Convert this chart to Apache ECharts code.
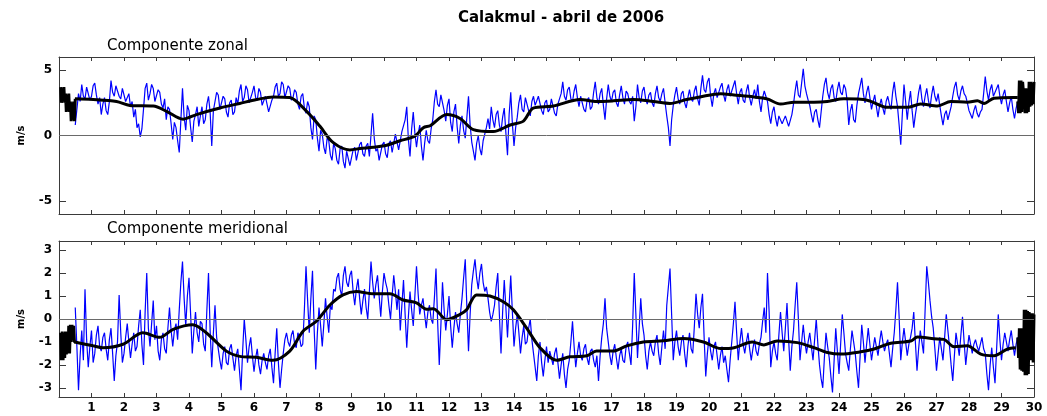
<!DOCTYPE html>
<html>
<head>
<meta charset="utf-8">
<title>Calakmul - abril de 2006</title>
<script src="https://cdn.jsdelivr.net/npm/echarts@6/dist/echarts.min.js"></script>
<style>
  html, body { margin: 0; padding: 0; background: #fff; }
  #chart { width: 1047px; height: 416px; }
</style>
</head>
<body>
<div id="chart"></div>
<script>
// raw series: one value every 0.05 day, starting at day 0.5 (one row = one day)
const rawStart = 0.5;
const rawStep = 0.05;
// filter edges (drawn black): one value every 0.025 day
const blockStep = 0.025;
const headStart = 0.05;
const tailStart = 29.5;

const dayTicks = [1, 2, 3, 4, 5, 6, 7, 8, 9, 10, 11, 12, 13, 14, 15, 16, 17, 18, 19, 20, 21, 22, 23, 24, 25, 26, 27, 28, 29, 30];
const zonalTicks = [-5, 0, 5];
const meridTicks = [-3, -2, -1, 0, 1, 2, 3];

// Componente zonal (m/s)
const zonalRaw = [
  0.8, 2.0, 3.2, 2.6, 3.9, 3.0, 2.8, 3.7, 3.6, 2.7, 3.0, 3.8, 4.0, 3.1, 2.4, 2.9, 1.6, 2.4, 2.9, 1.9,
  1.6, 2.6, 4.2, 3.3, 3.0, 3.8, 3.9, 3.0, 2.8, 3.6, 3.5, 2.6, 2.7, 3.2, 2.2, 2.6, 1.4, 2.0, 0.6, 0.9,
  -0.1, 0.5, 2.0, 3.6, 4.0, 2.7, 3.2, 3.9, 3.6, 2.6, 2.5, 3.5, 3.3, 2.4, 2.1, 2.8, 1.2, 2.2, 2.0, 0.9,
  -0.3, 1.0, 0.6, -0.4, -1.3, 1.2, 3.6, 1.4, 0.4, 2.3, 1.9, 0.6, -0.5, 1.1, 1.6, 2.2, 0.7, 1.5, 2.2, 0.9,
  1.2, 2.4, 3.0, 1.8, -0.8, 1.9, 2.6, 3.3, 3.1, 2.0, 2.1, 3.0, 2.8, 1.8, 1.4, 2.5, 2.7, 1.6, 1.8, 2.9,
  2.4, 3.4, 3.9, 2.6, 2.9, 3.8, 3.5, 2.5, 2.4, 3.3, 3.8, 2.9, 2.7, 3.6, 3.3, 2.3, 2.2, 3.0, 3.1, 1.8,
  1.9, 2.7, 3.0, 3.7, 4.0, 3.0, 3.2, 4.1, 3.9, 2.9, 3.0, 3.8, 3.6, 2.7, 2.9, 3.5, 3.3, 2.4, 2.0, 3.0,
  3.2, 2.1, 1.7, 2.6, 2.2, 0.6, -0.3, 1.5, 1.2, -0.2, -1.2, 0.4, 0.1, -0.9, -1.4, -0.2, -0.4, -1.5, -1.9, -0.6,
  -1.0, -1.9, -2.2, -1.0, -0.8, -2.0, -2.5, -1.2, -1.3, -2.3, -2.4, -1.1, -0.9, -1.9, -1.8, -0.7, -0.5, -1.4, -1.6, -0.8,
  -0.6, -1.6, -1.5, 1.7, -0.2, -1.2, -1.0, -1.9, -2.0, -0.7, -0.5, -1.4, -1.7, -0.6, -0.4, -1.3, -1.2, 0.1, 0.0, -1.1,
  -1.0, 0.3, 0.2, 1.2, 2.2, -0.3, -1.6, 0.5, 1.8, 0.2, -0.9, 0.1, 0.8, -0.8, -1.9, -0.6, 0.4, -0.4, -0.6, 0.5,
  1.2, 2.6, 3.5, 2.4, 2.2, 3.1, 3.2, 1.9, 1.1, 2.3, 2.8, 1.0, 0.3, 1.8, 2.4, 0.7, -0.6, 0.8, 1.5, 0.4,
  -0.2, 1.4, 3.0, 0.8, -0.5, -1.2, -1.9, -0.6, 0.0, -1.0, -1.5, -0.4, -0.3, 0.6, 1.3, 0.5, 2.2, 1.2, 0.6, 1.6,
  1.9, 0.8, 0.3, 1.4, 2.1, 0.2, -1.5, 1.6, 3.3, 0.9, -0.8, 0.6, 1.4, 2.5, 3.1, 2.0, 1.8, 2.9, 2.8, 1.9,
  1.5, 2.6, 3.0, 2.3, 2.2, 3.0, 3.1, 1.9, 1.6, 2.5, 2.7, 1.8, 2.0, 2.8, 2.9, 1.7, 1.5, 2.4, 2.5, 3.2,
  4.1, 3.0, 2.7, 3.5, 3.7, 2.8, 2.6, 3.4, 3.9, 2.9, 2.2, 3.0, 3.1, 2.0, 1.8, 2.7, 2.9, 2.0, 2.2, 3.3,
  4.1, 2.9, 2.4, 3.2, 3.6, 2.3, 1.2, 2.8, 3.9, 3.0, 2.6, 3.3, 3.5, 2.5, 2.2, 3.1, 3.8, 2.9, 2.4, 3.4,
  3.2, 2.6, 2.4, 3.0, 1.1, 2.2, 3.9, 2.9, 2.5, 3.4, 3.7, 2.8, 2.4, 3.1, 3.3, 2.5, 2.2, 3.2, 3.8, 2.9,
  2.6, 3.2, 3.6, 2.5, 1.5, 0.6, -0.8, 1.2, 2.3, 3.1, 3.7, 2.8, 2.4, 3.2, 3.4, 2.5, 2.1, 2.9, 3.5, 2.8,
  2.6, 3.4, 3.8, 2.8, 2.3, 3.6, 4.6, 3.5, 3.3, 4.1, 4.4, 3.0, 2.2, 3.2, 3.6, 2.9, 2.8, 3.7, 4.0, 3.1,
  2.6, 3.5, 3.9, 3.0, 2.9, 3.8, 4.2, 3.2, 2.4, 3.3, 3.6, 2.7, 2.5, 3.4, 3.9, 2.9, 2.3, 3.0, 3.5, 2.8,
  3.9, 2.6, 1.8, 2.9, 3.4, 3.0, 2.6, 1.6, 0.9, 1.8, 2.2, 1.3, 0.7, 1.5, 1.6, 0.9, 1.0, 1.5, 1.4, 0.7,
  0.8, 1.6, 2.4, 3.4, 4.2, 3.1, 2.9, 4.0, 5.1, 3.8, 3.2, 2.7, 2.3, 1.6, 1.0, 1.8, 2.0, 1.2, 0.6, 1.8,
  3.0, 3.9, 4.4, 3.3, 2.8, 3.6, 3.9, 2.9, 2.6, 3.5, 4.1, 3.3, 3.1, 3.9, 3.6, 2.7, 0.8, 1.9, 2.4, 1.2,
  1.0, 2.3, 3.2, 3.8, 4.4, 3.2, 2.5, 3.3, 3.8, 2.9, 2.0, 2.6, 3.1, 2.2, 1.4, 2.3, 2.8, 2.1, 1.6, 2.6,
  3.0, 2.4, 2.0, 3.3, 4.1, 3.0, 2.2, 0.8, -0.7, 1.7, 3.9, 2.6, 1.2, 2.5, 3.4, 1.9, 0.6, 1.6, 2.4, 3.3,
  3.9, 2.8, 2.2, 3.0, 3.6, 2.7, 2.1, 3.1, 3.8, 3.0, 2.6, 3.2, 2.3, 1.5, 0.8, 1.6, 1.9, 1.2, 1.1, 2.2,
  3.0, 3.7, 4.1, 3.1, 2.7, 3.4, 3.8, 3.2, 3.0, 2.5, 1.9, 1.6, 1.3, 1.9, 2.3, 1.7, 1.4, 1.8, 2.0, 3.2,
  4.5, 3.4, 2.7, 3.5, 3.9, 3.0, 2.9, 3.6, 3.9, 3.0, 2.4, 3.1, 3.5, 2.6, 1.8, 2.5, 3.0, 2.0, 1.3, 2.1,
  2.6
];
const zonalHead = [3.7, 2.5, 3.6, 2.6, 3.7, 2.5, 3.2, 1.8, 3.1, 1.9, 3.2, 1.8, 2.6, 1.1, 2.5, 1.2, 2.6, 1.1, 2.8];
const zonalTail = [2.6, 1.7, 4.2, 1.7, 4.2, 1.8, 4.1, 3.3, 3.6, 1.7, 3.6, 1.7, 3.5, 1.8, 4.1, 2.2, 4.1, 2.3, 4.0, 2.4, 4.1];
const zonalMeanDays = [0.49, 1.05, 1.77, 2.18, 2.9, 3.31, 3.82, 4.23, 4.95, 5.56, 6.08, 6.59, 7.1, 7.62, 8.03, 8.44, 8.95, 9.26, 9.67, 10.08,
  10.49, 10.95, 11.21, 11.42, 11.93, 12.34, 12.75, 13.36, 13.88, 14.29, 14.59, 15.21, 16.03, 16.54, 17.06, 17.67, 18.29, 18.8, 19.31, 19.72,
  20.36, 20.77, 21.38, 21.79, 22.2, 22.62, 23.23, 23.64, 24.15, 24.87, 25.49, 26.1, 26.51, 27.03, 27.44, 27.95, 28.26, 28.46, 28.77, 29.38, 29.5];
const zonalMean = [2.8, 2.75, 2.6, 2.3, 2.25, 1.85, 1.25, 1.6, 2.1, 2.45, 2.75, 2.95, 2.9, 1.85, 0.7, -0.55, -1.1, -1.0, -0.9, -0.75,
  -0.4, -0.05, 0.6, 0.75, 1.6, 1.3, 0.45, 0.3, 0.8, 1.1, 2.1, 2.25, 2.75, 2.6, 2.65, 2.75, 2.6, 2.45, 2.75, 2.95,
  3.2, 3.1, 2.95, 2.8, 2.4, 2.55, 2.55, 2.6, 2.8, 2.7, 2.15, 2.15, 2.4, 2.25, 2.6, 2.55, 2.65, 2.45, 2.85, 2.9, 2.9];

// Componente meridional (m/s)
const meridRaw = [
  0.5, -1.2, -3.1, -1.6, -0.5, -1.8, 1.3, -0.9, -2.1, -1.2, -0.5, -1.9, -1.5, -0.7, -0.3, -1.2, -1.4, -0.8, -0.6, -1.3,
  -1.8, -0.9, -0.4, -1.5, -2.7, -1.6, -1.0, 1.05, -0.6, -1.9, -1.5, -0.8, -0.2, -1.0, -1.7, -1.1, -0.6, -1.4, -1.2, -0.3,
  0.4, -1.1, -2.0, 0.3, 2.0, -0.4, -1.2, -0.2, 0.8, -0.9, -0.3, -1.4, -1.8, -0.9, -0.6, -1.3, -1.5, -0.4, 0.5, -0.5,
  -1.2, -0.5, -0.2, -0.9, 0.4, 1.6, 2.5, 0.9, -0.3, 1.0, 1.8, 0.2, -1.5, -0.5, 0.3, -0.6, -1.0, -0.1, -0.2, -1.1,
  -1.4, 0.4, 2.0, -0.5, -2.1, -0.6, 0.6, -0.8, -1.3, -1.8, -2.2, -1.5, -1.2, -1.9, -2.0, -1.3, -1.1, -1.7, -2.25, -1.6,
  -1.3, -2.2, -3.1, -1.4, 0.0, -0.9, -1.9, -1.2, -0.8, -1.6, -2.3, -1.7, -1.3, -2.0, -2.4, -1.8, -1.5, -1.9, -2.2, -1.6,
  -1.3, -2.1, -2.8, -1.5, -0.4, -1.9, -3.0, -2.2, -1.5, -0.9, -0.6, -1.0, -1.2, -0.7, -0.5, -1.1, -1.25, -0.6, -0.8, -1.2,
  -1.1, 0.4, 2.3, 0.8, -0.6, 0.9, 2.1, -0.4, -2.2, -0.6, 0.5, -0.3, -1.2, -0.2, 0.9, 0.1, -0.6, 0.6, 0.4, 1.3,
  1.2, 1.8, 2.0, 1.3, 1.0, 1.9, 2.3, 1.6, 1.4, 1.9, 2.1, 1.2, 0.6, 1.3, 1.75, 0.9, 0.2, 0.8, 1.3, 0.5,
  0.0, 1.2, 2.5, 1.6, 0.9, 1.5, 1.9, 1.0, 0.1, 1.2, 2.0, 1.6, 1.3, 0.6, 0.0, 1.0, 1.9, 1.2, 0.4, 1.3,
  -0.5, 0.6, 1.7, 0.2, -1.25, 0.1, 1.2, 0.4, -0.3, 1.0, 2.3, 1.1, 0.2, 0.6, 0.9, 0.2, -0.4, 0.3, 0.6, 0.0,
  -0.2, 0.9, 2.2, -0.1, -2.0, -0.3, 1.6, 0.4, -0.5, 0.2, 1.0, -0.3, -1.25, -0.4, 0.3, -0.2, -0.6, 0.2, 0.9, 1.8,
  2.6, 0.5, -1.4, 0.2, 1.5, 2.1, 2.6, 1.8, 1.3, 2.0, 2.4, 1.6, 1.2, 1.4, 0.9, 0.3, -0.1, 0.2, 0.6, 1.4,
  2.0, 0.2, -1.5, 0.3, 1.7, 0.5, -0.8, 0.6, 1.9, 0.3, -1.2, -0.4, 0.2, -0.6, -1.5, -0.8, -0.3, -1.1, -1.0, -0.4,
  0.0, -0.9, -1.5, -2.1, -2.7, -1.6, -1.0, -1.9, -2.5, -1.8, -1.2, -1.9, -1.4, -1.7, -2.0, -1.5, -1.25, -1.9, -2.6, -2.0,
  -1.5, -2.4, -3.0, -2.2, -1.8, -1.0, -0.1, -1.2, -2.1, -1.5, -1.0, -1.6, -1.8, -1.3, -1.1, -1.7, -2.0, -1.4, -1.3, -1.8,
  -2.1, -1.6, -2.7, -1.6, -0.8, -0.2, 0.9, -0.4, -1.0, -1.6, -2.0, -1.4, -1.1, -1.7, -2.2, -1.6, -1.3, -1.8, -1.9, -1.2,
  -1.0, -1.5, -2.0, -0.3, 2.0, 0.2, -1.7, -0.4, 0.9, -0.2, -0.7, -1.6, -2.2, -1.4, -1.0, -1.4, -1.6, -1.0, -0.7, -1.5,
  -2.0, -1.2, -0.5, -1.3, 0.6, 1.4, 2.2, 0.2, -1.8, -1.0, -0.5, -1.2, -1.6, -1.0, -0.7, -1.5, -2.1, -1.2, -0.6, -1.3,
  -1.5, -0.3, 1.1, 0.2, -0.4, 0.5, 1.1, -0.8, -2.5, -1.5, -0.8, -1.4, -1.8, -1.2, -1.0, -1.6, -2.2, -1.6, -1.2, -1.9,
  -1.6, -2.2, -2.75, -1.8, -1.0, -0.2, 0.75, -0.6, -1.8, -1.0, -0.4, -1.1, -1.5, -1.0, -0.6, -1.3, -1.8, -1.3, -0.9, -1.4,
  -1.6, -1.1, -0.8, -0.1, 0.5, -0.6, 2.0, 0.3, -2.1, -1.4, -1.0, -1.5, -1.8, -0.7, 0.3, -0.6, -1.4, -0.4, 0.7, -0.9,
  -2.25, -1.2, -0.5, 0.6, 1.6, 0.0, -1.8, -1.0, -0.25, -1.0, -1.5, -1.0, -0.6, -1.2, -1.8, -0.9, 0.0, -1.1, -2.0, -2.6,
  -3.0, -1.7, -0.6, -1.2, -1.7, -2.5, -3.2, -1.8, -0.4, -1.4, -2.4, -1.1, 0.2, -0.6, -1.5, -1.9, -2.25, -1.3, -0.5, -1.0,
  -1.5, -2.3, -3.0, -1.6, -0.25, -1.0, -1.9, -1.1, -0.4, -1.1, -1.8, -1.3, -0.8, -1.2, -1.6, -1.0, -0.5, -1.0, -1.4, -1.1,
  -0.9, -1.5, -2.1, -1.3, -0.6, 0.4, 1.6, 0.1, -1.8, -1.0, -0.4, -1.0, -1.6, -1.1, -0.8, -0.4, 0.3, -1.0, -2.25, -1.3,
  -0.5, -1.0, -1.5, 0.4, 2.3, 1.6, 0.8, 0.1, -0.4, -1.3, -2.25, -1.5, -0.8, -1.3, -1.8, -0.8, 0.2, -0.5, -1.2, -2.0,
  -2.7, -1.6, -0.6, -1.1, -1.6, -0.7, 0.1, -1.0, -2.0, -1.3, -0.7, -1.1, -1.5, -1.1, -0.9, -1.2, -1.4, -1.1, -0.8, -1.3,
  -1.5, -2.4, -3.1, -2.0, -1.25, -2.1, -2.8, -1.3, 0.2, -0.9, -1.8, -1.1, -0.6, -1.0, -1.4, -0.9, -0.5, -1.1, -1.6, -1.1,
  -0.8
];
const meridHead = [-0.6, -1.8, -0.55, -1.8, -0.6, -1.7, -0.55, -1.55, -0.6, -1.5, -0.3, -1.5, -0.25, -1.0, -0.25, -0.9, -0.3, -1.0, -1.0];
const meridTail = [-0.8, -1.7, -0.4, -2.2, -0.4, -2.25, -0.4, -2.3, 0.4, -2.45, 0.4, -2.45, 0.35, -2.4, 0.3, -1.8, 0.25, -1.8, 0.25, -1.9, 0.2];
const meridMeanDays = [0.48, 1.05, 1.35, 1.97, 2.58, 3.1, 3.51, 4.12, 4.53, 5.15, 5.56, 6.07, 6.58, 7.1, 7.51, 7.92, 8.33, 8.74, 9.15, 9.66,
  10.18, 10.59, 11.0, 11.31, 11.52, 11.93, 12.34, 12.54, 12.85, 13.26, 13.67, 13.98, 14.39, 14.8, 15.31, 15.72, 16.24, 16.54, 17.06, 17.47,
  17.98, 18.59, 19.21, 19.83, 20.36, 20.77, 21.33, 21.69, 22.1, 22.72, 23.23, 23.64, 24.05, 24.67, 25.08, 25.59, 26.21, 26.41, 26.92, 27.23,
  27.54, 27.95, 28.36, 28.77, 29.18, 29.44];
const meridMean = [-1.0, -1.17, -1.25, -1.1, -0.6, -0.8, -0.45, -0.25, -0.6, -1.4, -1.63, -1.67, -1.8, -1.4, -0.53, -0.1, 0.6, 1.05, 1.2, 1.1,
  1.1, 0.83, 0.7, 0.43, 0.45, -0.03, 0.2, 0.4, 1.05, 1.0, 0.75, 0.4, -0.4, -1.25, -1.8, -1.65, -1.6, -1.4, -1.4, -1.17,
  -1.0, -0.95, -0.85, -1.0, -1.29, -1.25, -1.0, -1.13, -0.96, -1.03, -1.25, -1.46, -1.53, -1.43, -1.31, -1.06, -0.96, -0.79, -0.86, -0.89,
  -1.21, -1.17, -1.53, -1.6, -1.31, -1.25];

// helpers to turn the arrays into [day, value] pairs
const byStep = (start, step, vals) => vals.map((v, i) => [+(start + i * step).toFixed(3), v]);
const zip = (days, vals) => days.map((d, i) => [d, vals[i]]);

const FONT = 'DejaVu Sans';
const frame = { show: true, onZero: false, lineStyle: { color: '#3a3a3a', width: 1 } };

function xAxes(grid, withLabels) {
  const base = {
    gridIndex: grid, type: 'value', min: 0, max: 30, interval: 1,
    axisLine: frame, splitLine: { show: false },
    axisTick: { inside: true, length: 4, lineStyle: { color: '#3a3a3a' } }
  };
  return [
    Object.assign({}, base, {
      position: 'bottom',
      axisLabel: {
        show: withLabels, margin: 5, color: '#000', fontFamily: FONT, fontSize: 12, fontWeight: 'bold',
        formatter: v => (dayTicks.indexOf(v) >= 0 ? String(v) : '')
      }
    }),
    Object.assign({}, base, { position: 'top', axisLabel: { show: false } })
  ];
}

function yAxes(grid, lo, hi, ticks) {
  const base = {
    gridIndex: grid, type: 'value', min: lo, max: hi,
    axisLine: frame, splitLine: { show: false },
    axisTick: { inside: true, length: 7, customValues: ticks, lineStyle: { color: '#3a3a3a' } }
  };
  return [
    Object.assign({}, base, {
      position: 'left',
      name: 'm/s', nameLocation: 'middle', nameGap: 33, nameRotate: 90,
      nameTextStyle: { fontFamily: FONT, fontSize: 10, fontWeight: 'bold', color: '#000' },
      axisLabel: { margin: 7, customValues: ticks, color: '#000', fontFamily: FONT, fontSize: 12, fontWeight: 'bold' }
    }),
    Object.assign({}, base, { position: 'right', axisLabel: { show: false } })
  ];
}

function panelSeries(xi, yi, raw, head, tail, meanDays, mean) {
  return [
    {
      type: 'line', xAxisIndex: xi, yAxisIndex: yi, data: byStep(rawStart, rawStep, raw),
      showSymbol: false, sampling: null, lineStyle: { color: '#0000ff', width: 1.2 }, z: 2,
      markLine: {
        silent: true, symbol: 'none', label: { show: false },
        lineStyle: { color: '#6a6a6a', width: 1, type: 'solid' },
        data: [{ yAxis: 0 }]
      }
    },
    {
      type: 'line', xAxisIndex: xi, yAxisIndex: yi, data: byStep(headStart, blockStep, head),
      showSymbol: false, lineStyle: { color: '#000', width: 3 }, z: 3
    },
    {
      type: 'line', xAxisIndex: xi, yAxisIndex: yi, data: byStep(tailStart, blockStep, tail),
      showSymbol: false, lineStyle: { color: '#000', width: 3 }, z: 3
    },
    {
      type: 'line', xAxisIndex: xi, yAxisIndex: yi, data: zip(meanDays, mean),
      showSymbol: false, smooth: 0.3, lineStyle: { color: '#000', width: 3 }, z: 4
    }
  ];
}

const chart = echarts.init(document.getElementById('chart'), null, { renderer: 'canvas' });
chart.setOption({
  animation: false,
  backgroundColor: '#fff',
  grid: [
    { left: 59, right: 13, top: 57, height: 157 },
    { left: 59, right: 13, top: 241, height: 156 }
  ],
  xAxis: [].concat(xAxes(0, false), xAxes(1, true)),
  yAxis: [].concat(yAxes(0, -6, 6, zonalTicks), yAxes(1, -3.4, 3.4, meridTicks)),
  graphic: [
    {
      type: 'text', x: 561, y: 18,
      style: { text: 'Calakmul - abril de 2006', fontFamily: FONT, fontSize: 15, fontWeight: 'bold', fill: '#000', align: 'center', verticalAlign: 'middle' }
    },
    {
      type: 'text', x: 107, y: 46,
      style: { text: 'Componente zonal', fontFamily: FONT, fontSize: 15, fill: '#000', align: 'left', verticalAlign: 'middle' }
    },
    {
      type: 'text', x: 107, y: 229,
      style: { text: 'Componente meridional', fontFamily: FONT, fontSize: 15, fill: '#000', align: 'left', verticalAlign: 'middle' }
    }
  ],
  series: [].concat(
    panelSeries(0, 0, zonalRaw, zonalHead, zonalTail, zonalMeanDays, zonalMean),
    panelSeries(2, 2, meridRaw, meridHead, meridTail, meridMeanDays, meridMean)
  )
});
</script>
</body>
</html>
